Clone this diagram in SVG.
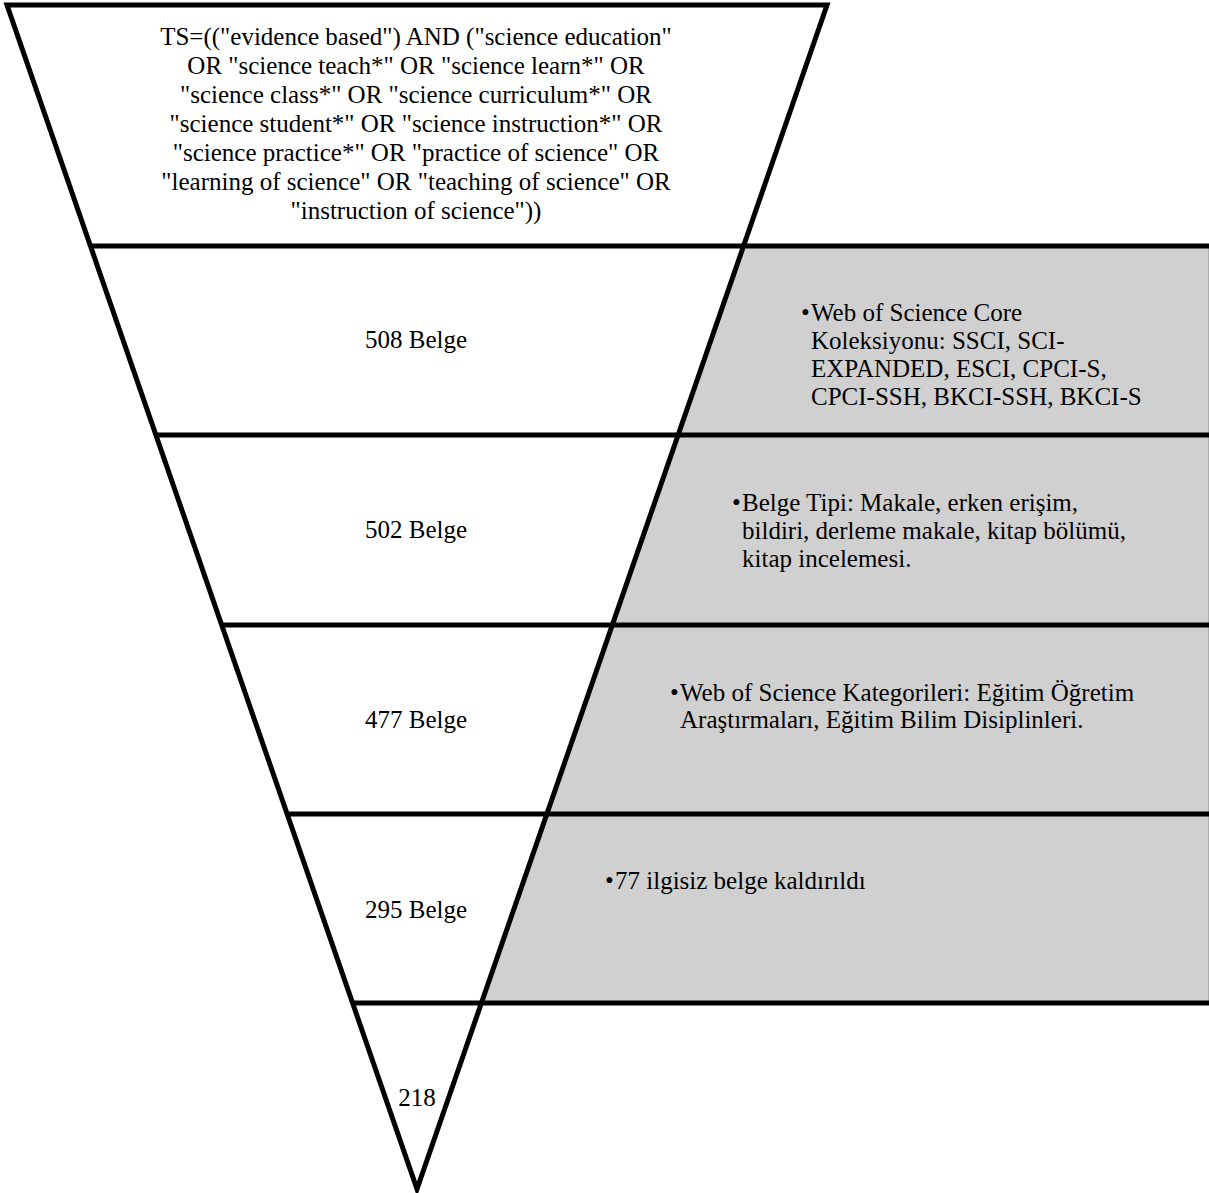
<svg xmlns="http://www.w3.org/2000/svg" width="1209" height="1193" viewBox="0 0 1209 1193">
  <style>
    text { font-family: "Liberation Serif", "DejaVu Serif", serif; font-size: 25px; fill: #000000; }
    .band { fill: #d0d0d0; stroke: #8a8a8a; stroke-width: 1; }
    .edge { fill: none; stroke: #000000; stroke-width: 5; stroke-linejoin: miter; }
    .rule { stroke: #000000; stroke-width: 5; }
  </style>
  <rect width="1209" height="1193" fill="#ffffff"/>

  <!-- grey criteria bands to the right of the funnel -->
  <g id="criteria-bands">
    <polygon class="band" points="743.5,246 1209,246 1209,435 678.1,435"/>
    <polygon class="band" points="678.1,435 1209,435 1209,625 612.3,625"/>
    <polygon class="band" points="612.3,625 1209,625 1209,814 546.9,814"/>
    <polygon class="band" points="546.9,814 1209,814 1209,1003 481.4,1003"/>
  </g>

  <!-- funnel outline and stage dividers -->
  <g id="connectors">
    <polygon class="edge" points="7,5 827,5 417,1189"/>
    <line class="rule" x1="90.5" y1="246" x2="1209" y2="246"/>
    <line class="rule" x1="155.9" y1="435" x2="1209" y2="435"/>
    <line class="rule" x1="221.7" y1="625" x2="1209" y2="625"/>
    <line class="rule" x1="287.1" y1="814" x2="1209" y2="814"/>
    <line class="rule" x1="352.6" y1="1003" x2="1209" y2="1003"/>
  </g>

  <g id="query" text-anchor="middle">
    <text x="416" y="45">TS=(("evidence based") AND ("science education"</text>
    <text x="416" y="74">OR "science teach*" OR "science learn*" OR</text>
    <text x="416" y="103">"science class*" OR "science curriculum*" OR</text>
    <text x="416" y="132">"science student*" OR "science instruction*" OR</text>
    <text x="416" y="161">"science practice*" OR "practice of science" OR</text>
    <text x="416" y="190">"learning of science" OR "teaching of science" OR</text>
    <text x="416" y="219">"instruction of science"))</text>
  </g>

  <g id="stage-508" text-anchor="middle"><text x="416" y="348">508 Belge</text></g>
  <g id="stage-502" text-anchor="middle"><text x="416" y="538">502 Belge</text></g>
  <g id="stage-477" text-anchor="middle"><text x="416" y="728">477 Belge</text></g>
  <g id="stage-295" text-anchor="middle"><text x="416" y="918">295 Belge</text></g>
  <g id="stage-218" text-anchor="middle"><text x="417" y="1106">218</text></g>

  <g id="filter-collection">
    <text x="801" y="321">•</text>
    <text x="811" y="321">Web of Science Core</text>
    <text x="811" y="349">Koleksiyonu: SSCI, SCI-</text>
    <text x="811" y="377">EXPANDED, ESCI, CPCI-S,</text>
    <text x="811" y="405">CPCI-SSH, BKCI-SSH, BKCI-S</text>
  </g>

  <g id="filter-type">
    <text x="732" y="511">•</text>
    <text x="742" y="511">Belge Tipi: Makale, erken erişim,</text>
    <text x="742" y="539">bildiri, derleme makale, kitap bölümü,</text>
    <text x="742" y="567">kitap incelemesi.</text>
  </g>

  <g id="filter-category">
    <text x="670" y="701">•</text>
    <text x="680" y="701">Web of Science Kategorileri: Eğitim Öğretim</text>
    <text x="680" y="728">Araştırmaları, Eğitim Bilim Disiplinleri.</text>
  </g>

  <g id="filter-relevance">
    <text x="605" y="889">•</text>
    <text x="615" y="889">77 ilgisiz belge kaldırıldı</text>
  </g>
</svg>
